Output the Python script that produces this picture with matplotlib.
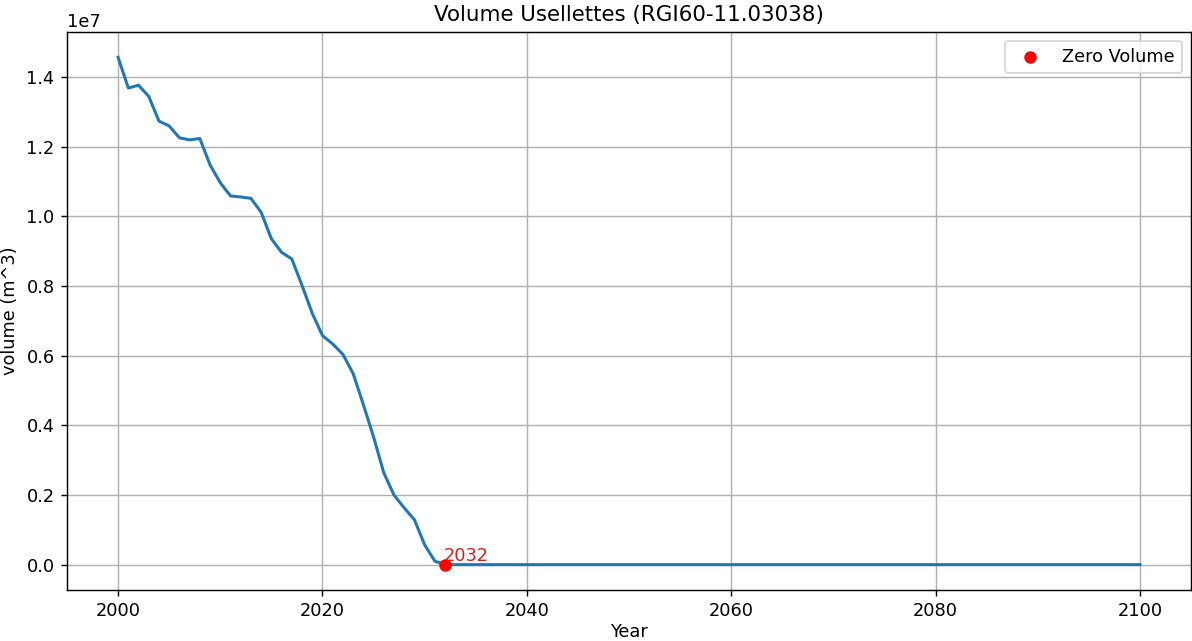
import numpy as np
import matplotlib
matplotlib.use("Agg")
import matplotlib.pyplot as plt

# Glacier volume (units of 1e6 m^3) for 2000-2031; from 2032 on the glacier is gone
years_melting = list(range(2000, 2032))
volume_millions = [
    14.57, 13.69, 13.77, 13.45, 12.74, 12.60, 12.26, 12.20, 12.24, 11.48,
    10.97, 10.59, 10.56, 10.52, 10.12, 9.36, 8.97, 8.78, 8.02, 7.22,
    6.58, 6.34, 6.04, 5.49, 4.60, 3.67, 2.64, 2.00, 1.63, 1.29,
    0.57, 0.10,
]
zero_year = 2032
end_year = 2100

years = np.arange(2000, end_year + 1)
volume = np.zeros(len(years))
volume[:len(volume_millions)] = np.array(volume_millions) * 1e6

fig = plt.figure(figsize=(1192 / 128, 641 / 128), dpi=128)
ax = fig.add_axes([67 / 1192, 1 - 590 / 641, (1191 - 67) / 1192, (590 - 32) / 641])

ax.plot(years, volume, linewidth=1.7)
zero_val = volume[years == zero_year][0]
ax.scatter([zero_year], [zero_val], color="red", label="Zero Volume", zorder=5)
ax.annotate(str(zero_year), (zero_year, zero_val), xytext=(-1, 2),
            textcoords="offset points", color="#d62020")

ax.set_title("Volume Usellettes (RGI60-11.03038)")
ax.set_xlabel("Year", labelpad=1.5)
ax.set_ylabel("volume (m^3)")
ax.grid(True)
ax.legend(loc="upper right")

fig.savefig("out.png", dpi=128)
